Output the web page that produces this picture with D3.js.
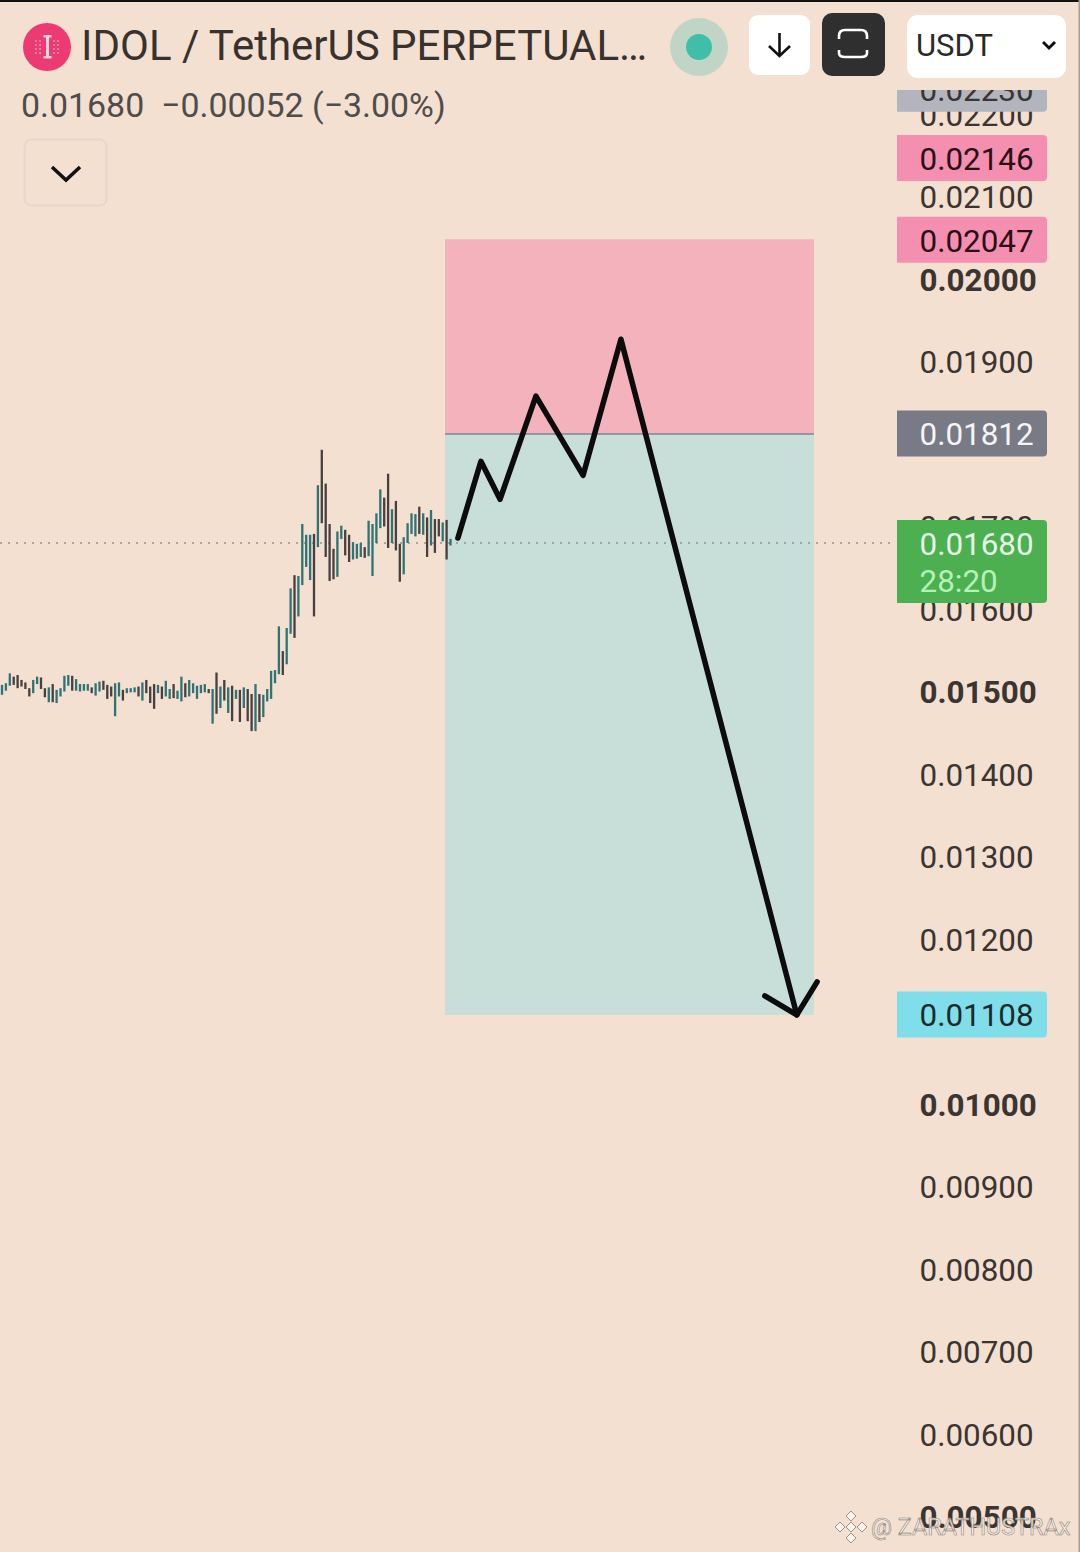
<!DOCTYPE html>
<html><head><meta charset="utf-8">
<script src="https://cdn.jsdelivr.net/npm/d3@7/dist/d3.min.js"></script>
<style>html,body{margin:0;padding:0;background:#f3e0d0}svg{display:block}text{font-family:Roboto,sans-serif}</style>
</head><body><div id="c"></div>
<script>
// price x 100000
const highs=[1508,1510,1522,1518,1520,1514,1511,1504,1514,1518,1517,1504,1505,1509,1502,1504,1519,1520,1519,1515,1509,1509,1509,1505,1510,1512,1513,1508,1506,1510,1511,1502,1504,1504,1505,1506,1511,1514,1506,1509,1508,1506,1513,1503,1509,1501,1518,1510,1514,1510,1507,1508,1509,1503,1503,1523,1506,1514,1505,1507,1502,1502,1505,1503,1497,1509,1497,1496,1503,1525,1526,1579,1549,1577,1625,1641,1640,1703,1690,1690,1691,1750,1793,1752,1703,1673,1694,1701,1696,1690,1681,1679,1680,1675,1707,1703,1716,1745,1735,1764,1721,1731,1679,1687,1704,1716,1715,1724,1716,1711,1720,1709,1709,1705,1708,1685];
const lows=[1496,1501,1507,1508,1504,1506,1503,1494,1498,1509,1503,1493,1487,1487,1486,1494,1500,1507,1501,1501,1500,1501,1501,1498,1495,1500,1502,1491,1494,1470,1494,1489,1498,1499,1499,1494,1489,1498,1486,1479,1498,1491,1494,1491,1492,1491,1488,1493,1494,1498,1491,1498,1499,1498,1461,1473,1480,1489,1474,1464,1491,1463,1480,1464,1452,1452,1463,1469,1488,1491,1510,1521,1520,1533,1570,1565,1591,1629,1651,1635,1591,1675,1704,1663,1634,1636,1639,1685,1665,1657,1660,1661,1663,1662,1664,1640,1680,1698,1700,1674,1680,1671,1633,1642,1680,1691,1688,1691,1690,1663,1677,1668,1688,1682,1660,1677];
const upBars=[1,2,3,9,10,13,15,16,17,18,20,21,22,23,25,26,30,31,33,34,35,37,41,43,44,46,47,49,50,51,52,53,55,57,59,61,63,66,68,69,70,71,72,74,75,77,78,79,80,82,87,88,91,92,93,95,96,97,98,101,104,105,106,107,109,111,114,116];
const axisTicks=[0.022,0.021,0.020,0.019,0.017,0.016,0.015,0.014,0.013,0.012,0.010,0.009,0.008,0.007,0.006,0.005];
const boldTicks=[0.020,0.015,0.010,0.005];
const lastPrice=0.0168, entry=0.01812, stop=0.02047, target=0.01108;
const zoneBars=[114.6,209.2];
const pathBars=[117.9,123.8,128.7,137.9,150,159.7,204.8];
const pathPrices=[1686,1779,1733,1858,1762,1927,1108];
const headBars=[196.6,204.8,210];
const headPrices=[1131,1108,1148];
const priceTags=[{v:0.0223,label:"0.02230",fill:"#b2b5be",text:"#3a3532"},{v:0.02146,label:"0.02146",fill:"#f48fb1",text:"#2a1015"},{v:0.02047,label:"0.02047",fill:"#f48fb1",text:"#2a1015"},{v:0.01812,label:"0.01812",fill:"#787b86",text:"#f5f5f5"},{v:0.01108,label:"0.01108",fill:"#80deea",text:"#1c2a2c"}];

const W=1080,H=1552;
const svg=d3.select("#c").append("svg").attr("width",W).attr("height",H).attr("viewBox",`0 0 ${W} ${H}`);
svg.append("rect").attr("width",W).attr("height",H).attr("fill","#f3e0d0");
svg.append("rect").attr("width",W).attr("height",2).attr("fill","#111");
svg.append("rect").attr("x",W-1.5).attr("width",1.5).attr("height",H).attr("fill","#a89d94");

const y=d3.scaleLinear().domain([0.02,0.01]).range([279,1104]);
const x=d3.scaleLinear().domain([1,116]).range([2,450.5]);
const defs=svg.append("defs");
defs.append("clipPath").attr("id","axisClip").append("rect").attr("x",890).attr("y",90).attr("width",190).attr("height",H-90);

// zones
const zx0=x(zoneBars[0]), zw=x(zoneBars[1])-zx0;
svg.append("rect").attr("x",zx0).attr("width",zw).attr("y",y(stop)-1).attr("height",y(entry)-y(stop)+1).attr("fill","#f4b3bc");
svg.append("rect").attr("x",zx0).attr("width",zw).attr("y",y(entry)).attr("height",y(target)-y(entry)).attr("fill","#c8ded8");
svg.append("line").attr("x1",zx0).attr("x2",zx0+zw).attr("y1",y(entry)).attr("y2",y(entry)).attr("stroke","#7d8790").attr("stroke-width",1.5);

// last price line
svg.append("line").attr("x1",0).attr("x2",892).attr("y1",y(lastPrice)).attr("y2",y(lastPrice)).attr("stroke","#8f9488").attr("stroke-width",1.5).attr("stroke-dasharray","2 6");

// bars
svg.append("g").selectAll("line").data(highs).join("line")
 .attr("x1",(d,i)=>x(i+1)).attr("x2",(d,i)=>x(i+1))
 .attr("y1",d=>y(d/1e5)).attr("y2",(d,i)=>y(lows[i]/1e5))
 .attr("stroke",(d,i)=>upBars.includes(i+1)?"#2f7375":"#473f40").attr("stroke-width",2.3);

// drawn path
const ln=d3.line().x(d=>x(d[0])).y(d=>y(d[1]/1e5)).curve(d3.curveLinear);
const dg=svg.append("g").attr("fill","none").attr("stroke","#0c0c0c").attr("stroke-width",5.5).attr("stroke-linecap","round").attr("stroke-linejoin","round");
dg.append("path").attr("d",ln(pathBars.map((b,i)=>[b,pathPrices[i]])));
dg.append("path").attr("d",ln(headBars.map((b,i)=>[b,headPrices[i]])));

// axis
const ag=svg.append("g").attr("clip-path","url(#axisClip)");
const axis=d3.axisRight(y).tickValues(axisTicks).tickSize(0).tickPadding(0).tickFormat(d3.format(".5f"));
const axG=ag.append("g").attr("transform","translate(919.5,0)").call(axis);
axG.select(".domain").remove();
axG.selectAll("text").attr("font-size",31.4).attr("fill","#3a3532").attr("font-family","Roboto")
 .attr("font-weight",d=>boldTicks.includes(d)?700:400).attr("dy","0.36em");

// tags
function roundedRight(x0,y0,w,h,r){return `M${x0},${y0}H${x0+w-r}Q${x0+w},${y0} ${x0+w},${y0+r}V${y0+h-r}Q${x0+w},${y0+h} ${x0+w-r},${y0+h}H${x0}Z`;}
priceTags.forEach(t=>{
 const c=y(t.v);
 ag.append("path").attr("d",roundedRight(897,c-23.5,150,46,4)).attr("fill",t.fill);
 ag.append("text").attr("x",919.5).attr("y",c).attr("dy","0.36em").attr("font-size",31.4).attr("fill",t.text).text(t.label);
});
ag.append("path").attr("d",roundedRight(897,y(lastPrice)-23,150,83,4)).attr("fill","#4caf50");
ag.append("text").attr("x",919.5).attr("y",y(lastPrice)).attr("dy","0.38em").attr("font-size",31.4).attr("fill","#e6f7e6").text("0.01680");
ag.append("text").attr("x",919.5).attr("y",y(lastPrice)+38).attr("dy","0.36em").attr("font-size",31.4).attr("fill","#b6f2b8").text("28:20");

// header
svg.append("circle").attr("cx",47).attr("cy",47).attr("r",24).attr("fill","#ee3a72");
svg.append("path").attr("d","M46,36h3v22h-3z M43.5,35h8v2.5h-8z M43.5,56h8v2.5h-8z").attr("fill","#fbd3e0");
[36,40,54,58].forEach(cx=>svg.append("line").attr("x1",cx).attr("x2",cx).attr("y1",40).attr("y2",54).attr("stroke","#f9a9c5").attr("stroke-width",1.2).attr("stroke-dasharray","2 2"));
svg.append("text").attr("x",81).attr("y",60).attr("font-size",42).attr("fill","#38322e").text("IDOL / TetherUS PERPETUAL…");
svg.append("text").attr("x",21).attr("y",117).attr("font-size",33.9).attr("fill","#4f4d4b").style("white-space","pre").text("0.01680  −0.00052 (−3.00%)");
svg.append("rect").attr("x",24.5).attr("y",139.5).attr("width",82).attr("height",66).attr("rx",7).attr("fill","#f3e0d0").attr("stroke","#e8d7c9").attr("stroke-width",2);
svg.append("path").attr("d","M52,167L66,180L80,167").attr("fill","none").attr("stroke","#111").attr("stroke-width",3.5);

svg.append("circle").attr("cx",699).attr("cy",47).attr("r",29).attr("fill","#c0d5c6");
svg.append("circle").attr("cx",699).attr("cy",47).attr("r",13).attr("fill","#40bfa8");
svg.append("rect").attr("x",749).attr("y",15).attr("width",61).attr("height",60).attr("rx",9).attr("fill","#fff");
svg.append("path").attr("d","M779.5,33V56M769,46L779.5,56L790,46").attr("fill","none").attr("stroke","#111").attr("stroke-width",2.6);
svg.append("rect").attr("x",822).attr("y",13).attr("width",63).attr("height",63).attr("rx",10).attr("fill","#2f2f2f");
svg.append("path").attr("d","M839,39V36Q839,30 845,30H861Q867,30 867,36V39M839,50V53Q839,57 845,57H861Q867,57 867,53V50").attr("fill","none").attr("stroke","#fff").attr("stroke-width",2.6);
svg.append("rect").attr("x",907).attr("y",15).attr("width",159).attr("height",63).attr("rx",11).attr("fill","#fff");
svg.append("text").attr("x",916).attr("y",56).attr("font-size",31).attr("fill","#2a2a2a").text("USDT");
svg.append("path").attr("d","M1043,42L1049,48L1055,42").attr("fill","none").attr("stroke","#111").attr("stroke-width",3);

// watermark
const wm=svg.append("g");
[[851,1516],[840,1527],[862,1527],[851,1538]].forEach(p=>wm.append("path").attr("d",`M${p[0]},${p[1]-5}l5,5l-5,5l-5,-5z`).attr("fill","#f8f3ee").attr("stroke","#8f8780").attr("stroke-width",0.9));
wm.append("path").attr("d","M851,1522l5,5l-5,5l-5,-5z").attr("fill","#f8f3ee").attr("stroke","#8f8780").attr("stroke-width",0.9);
wm.append("text").attr("x",871).attr("y",1535).attr("font-size",23.4).attr("fill","#f7f2ec").attr("fill-opacity",0.85).attr("stroke","#8f8780").attr("stroke-width",0.6).text("@ ZARATHUSTRAx");
</script></body></html>
